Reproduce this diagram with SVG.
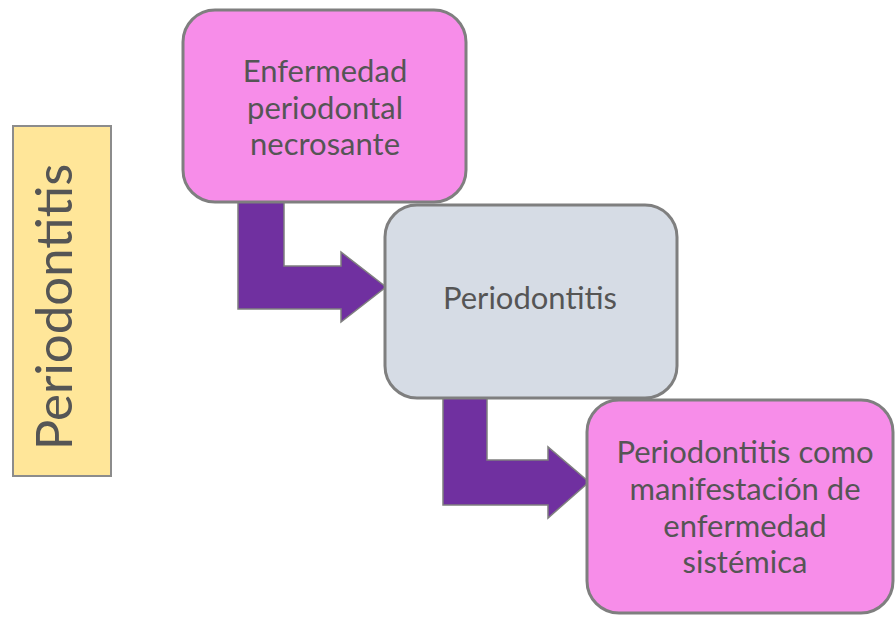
<svg xmlns="http://www.w3.org/2000/svg" width="895" height="617" viewBox="0 0 895 617">
<style>
.box{stroke:#7f7f7f;stroke-width:3}
.pink{fill:#F78DE9}
.grey{fill:#D6DCE5}
.arrow{fill:#7030A0;stroke:#7f7f7f;stroke-width:1.5;stroke-linejoin:miter}
.t{font-family:Lato,"Noto Sans",sans-serif;font-size:31px;fill:#555555;text-anchor:middle}
</style>
<rect width="895" height="617" fill="#ffffff"/>
<g id="label">
<rect x="13" y="126" width="98" height="350" fill="#FFE699" stroke="#8c8c8c" stroke-width="2"/>
<text transform="translate(72,307) rotate(-90)" class="t" style="font-size:51px">Periodontitis</text>
</g>
<g id="connectors">
<path class="arrow" d="M238,202 L284,202 L284,266 L341,266 L341,252 L386,287 L341,322 L341,309 L238,309 Z"/>
<path class="arrow" d="M443,398 L487,398 L487,460 L548,460 L548,447 L589,482 L548,518 L548,505 L443,505 Z"/>
</g>
<g id="node1">
<rect class="box pink" x="183" y="10" width="283" height="192" rx="32"/>
<text class="t" x="325" y="82">Enfermedad</text>
<text class="t" x="325" y="118.5">periodontal</text>
<text class="t" x="325" y="155">necrosante</text>
</g>
<g id="node2">
<rect class="box grey" x="385" y="205" width="292" height="193" rx="32"/>
<text class="t" x="530" y="309">Periodontitis</text>
</g>
<g id="node3">
<rect class="box pink" x="587" y="400" width="306" height="213" rx="32"/>
<text class="t" x="745" y="463">Periodontitis como</text>
<text class="t" x="745" y="500">manifestación de</text>
<text class="t" x="745" y="537">enfermedad</text>
<text class="t" x="745" y="573">sistémica</text>
</g>
</svg>
